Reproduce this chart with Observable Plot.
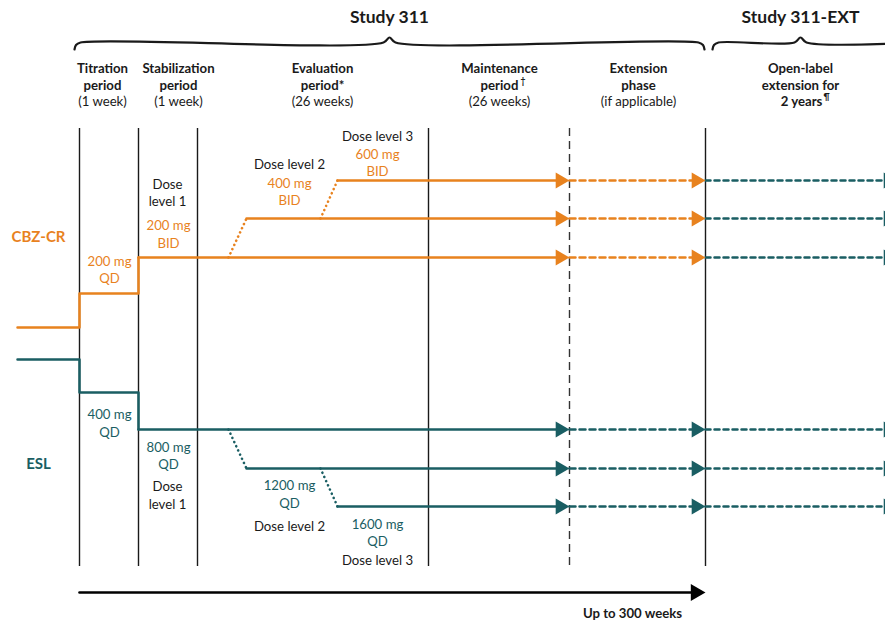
<!DOCTYPE html>
<html><head><meta charset="utf-8">
<script src="https://cdn.jsdelivr.net/npm/d3@7"></script>
<script src="https://cdn.jsdelivr.net/npm/@observablehq/plot@0.6"></script>
<style>
body{margin:0;background:#fff;overflow:hidden}
#chart svg{font-family:Lato,"Open Sans",sans-serif;overflow:hidden}
</style>
</head><body><div id="chart"></div>
<script>
// ---- data ----
const studyLabels = ["Study 311", "Study 311-EXT"];
const studyCenters = [389, 800];
const periodBoundaries = [79, 138, 197, 428, 705];      // solid dividers
const extensionBoundary = [569];                       // dashed divider
const headerTitles = ["Titration\nperiod", "Stabilization\nperiod", "Evaluation\nperiod*", "Maintenance\nperiod", "Extension\nphase", "Open-label\nextension for"];
const headerSubs = ["(1 week)", "(1 week)", "(26 weeks)", "(26 weeks)", "(if applicable)"];
const headerCenters = [102, 178, 322, 499, 638, 800];
const extDuration = ["2 years"];
const footnoteMarks = ["\u2020", "\u00B6"];

// CBZ-CR: screening -> titration -> stabilization -> dose levels
const cbzSteps = [327, 293, 257];
const cbzLevels = [257, 218, 180];
const cbzDoses = ["200 mg\nQD", "200 mg\nBID", "400 mg\nBID", "600 mg\nBID"];
// ESL
const eslSteps = [359, 392, 429];
const eslLevels = [429, 468, 506];
const eslDoses = ["400 mg\nQD", "800 mg\nQD", "1200 mg\nQD", "1600 mg\nQD"];
const doseLevelNames = ["Dose\nlevel 1", "Dose level 2", "Dose level 3"];
const escalationStarts = [228, 320];   // where up-titration begins
const levelStarts = [138, 246, 337];   // where each level's line begins
const timeLabel = ["Up to 300 weeks"];

const ORANGE = "#E8821E", TEAL = "#1A5E63", INK = "#1a1a1a";
const X0 = 17, ARROW1 = 569, ARROW2 = 705, ARROW3 = 897, TIP = 9.2;
const FS = 13.2;

// ---- derived tables ----
const stepPath = (s) => [
  {x: X0, y: s[0]}, {x: periodBoundaries[0], y: s[0]}, {x: periodBoundaries[0], y: s[1]},
  {x: periodBoundaries[1], y: s[1]}, {x: periodBoundaries[1], y: s[2]}];
const solidLevels = (lv) => lv.map((y, i) => [{x: levelStarts[i], y, i}, {x: ARROW1 - TIP, y, i}]).flat();
const escalations = (lv) => escalationStarts.map((x0, i) => [{x: x0, y: lv[i], i}, {x: levelStarts[i + 1], y: lv[i + 1], i}]).flat();
const seg = (lv, a, b) => lv.map((y, i) => [{x: a, y, i}, {x: b, y, i}]).flat();
const heads = (lv, x) => lv.map(y => ({x: x - TIP, y}));

const braceSets = [
  [[74,49],[75.5,44.5],[80,42],[383,42],[389,37],[395,42],[698,42],[702.5,44.5],[704,49]],
  [[712,49],[713.5,44.5],[718,42],[794,42],[800,37],[806,42],[920,42]]
].map((pts, k) => pts.map(([x, y]) => ({x, y, k}))).flat();

const chart = Plot.plot({
  width: 885, height: 621, margin: 0,
  x: {domain: [0, 885], range: [0, 885], axis: null},
  y: {domain: [0, 621], range: [0, 621], axis: null},
  style: {background: "#fff"},
  marks: [
    // titles and braces
    Plot.text(studyLabels, {x: (d, i) => studyCenters[i], y: 17, text: d => d, fontSize: 17.5, fontWeight: "bold", fill: INK}),
    Plot.line(braceSets, {x: "x", y: "y", z: "k", stroke: INK, strokeWidth: 2.2, curve: "catmull-rom"}),
    // headers
    Plot.text(headerTitles, {x: (d, i) => headerCenters[i], y: 75.5, text: d => d, fontSize: FS, fontWeight: "bold", fill: INK, lineHeight: 1.3}),
    Plot.text(headerSubs, {x: (d, i) => headerCenters[i], y: 101, text: d => d, fontSize: FS, fill: INK}),
    Plot.text(extDuration, {x: 801, y: 101, text: d => d, fontSize: FS, fill: INK, fontWeight: "bold"}),
    Plot.text(footnoteMarks, {x: (d, i) => [520, 823][i], y: (d, i) => [81, 97][i], text: d => d, fontSize: 8.5, fill: INK, fontWeight: "bold", textAnchor: "start"}),
    // dividers
    Plot.ruleX(periodBoundaries, {y1: 128, y2: 566, stroke: INK, strokeWidth: 1.4}),
    Plot.ruleX(extensionBoundary, {y1: 128, y2: 566, stroke: "#333", strokeWidth: 1.4, strokeDasharray: "8,5"}),

    // CBZ-CR
    Plot.line(stepPath(cbzSteps), {x: "x", y: "y", stroke: ORANGE, strokeWidth: 2.5}),
    Plot.line(solidLevels(cbzLevels), {x: "x", y: "y", z: "i", stroke: ORANGE, strokeWidth: 2.5}),
    Plot.line(escalations(cbzLevels), {x: "x", y: "y", z: "i", stroke: ORANGE, strokeWidth: 2.6, strokeDasharray: "0.1,4.5", strokeLinecap: "round"}),
    Plot.line(seg(cbzLevels, ARROW1, ARROW2 - TIP), {x: "x", y: "y", z: "i", stroke: ORANGE, strokeWidth: 2.5, strokeDasharray: "6,4"}),
    Plot.line(seg(cbzLevels, ARROW2, ARROW3 - TIP), {x: "x", y: "y", z: "i", stroke: TEAL, strokeWidth: 2.5, strokeDasharray: "5,4"}),
    Plot.dot(heads(cbzLevels, ARROW1), {x: "x", y: "y", symbol: "triangle", rotate: 90, r: 5.9, fill: ORANGE}),
    Plot.dot(heads(cbzLevels, ARROW2), {x: "x", y: "y", symbol: "triangle", rotate: 90, r: 5.9, fill: ORANGE}),
    Plot.dot(heads(cbzLevels, ARROW3), {x: "x", y: "y", symbol: "triangle", rotate: 90, r: 5.9, fill: TEAL}),

    // ESL
    Plot.line(stepPath(eslSteps), {x: "x", y: "y", stroke: TEAL, strokeWidth: 2.5}),
    Plot.line(solidLevels(eslLevels), {x: "x", y: "y", z: "i", stroke: TEAL, strokeWidth: 2.5}),
    Plot.line(escalations(eslLevels), {x: "x", y: "y", z: "i", stroke: TEAL, strokeWidth: 2.6, strokeDasharray: "0.1,4.5", strokeLinecap: "round"}),
    Plot.line(seg(eslLevels, ARROW1, ARROW2 - TIP), {x: "x", y: "y", z: "i", stroke: TEAL, strokeWidth: 2.5, strokeDasharray: "6,4"}),
    Plot.line(seg(eslLevels, ARROW2, ARROW3 - TIP), {x: "x", y: "y", z: "i", stroke: TEAL, strokeWidth: 2.5, strokeDasharray: "5,4"}),
    Plot.dot(heads(eslLevels, ARROW1), {x: "x", y: "y", symbol: "triangle", rotate: 90, r: 5.9, fill: TEAL}),
    Plot.dot(heads(eslLevels, ARROW2), {x: "x", y: "y", symbol: "triangle", rotate: 90, r: 5.9, fill: TEAL}),
    Plot.dot(heads(eslLevels, ARROW3), {x: "x", y: "y", symbol: "triangle", rotate: 90, r: 5.9, fill: TEAL}),

    // arm labels
    Plot.text(["CBZ-CR"], {x: 38, y: 237, text: d => d, fill: ORANGE, fontWeight: "bold", fontSize: 15}),
    Plot.text(["ESL"], {x: 38, y: 464, text: d => d, fill: TEAL, fontWeight: "bold", fontSize: 15}),

    // dose labels
    Plot.text(cbzDoses, {x: (d, i) => [109, 168, 289, 377][i], y: (d, i) => [268.5, 233, 190.5, 161.5][i], text: d => d, fill: ORANGE, fontSize: FS, lineHeight: 1.32}),
    Plot.text(doseLevelNames, {x: (d, i) => [167, 289, 377][i], y: (d, i) => [191.5, 162.5, 134.5][i], text: d => d, fill: INK, fontSize: FS, lineHeight: 1.32}),
    Plot.text(eslDoses, {x: (d, i) => [109, 168, 289, 377][i], y: (d, i) => [422, 454.5, 493, 531.5][i], text: d => d, fill: TEAL, fontSize: FS, lineHeight: 1.32}),
    Plot.text(doseLevelNames, {x: (d, i) => [167, 289, 377][i], y: (d, i) => [494, 524.5, 559][i], text: d => d, fill: INK, fontSize: FS, lineHeight: 1.32}),

    // time arrow
    Plot.line([{x: 79, y: 592}, {x: 694, y: 592}], {x: "x", y: "y", stroke: "#000", strokeWidth: 2.6}),
    Plot.dot([{x: 705 - 9.8, y: 592}], {x: "x", y: "y", symbol: "triangle", rotate: 90, r: 6.3, fill: "#000"}),
    Plot.text(timeLabel, {x: 632, y: 613, text: d => d, fill: INK, fontWeight: "bold", fontSize: 13.2})
  ]
});
document.getElementById("chart").appendChild(chart);
</script>
</body></html>
